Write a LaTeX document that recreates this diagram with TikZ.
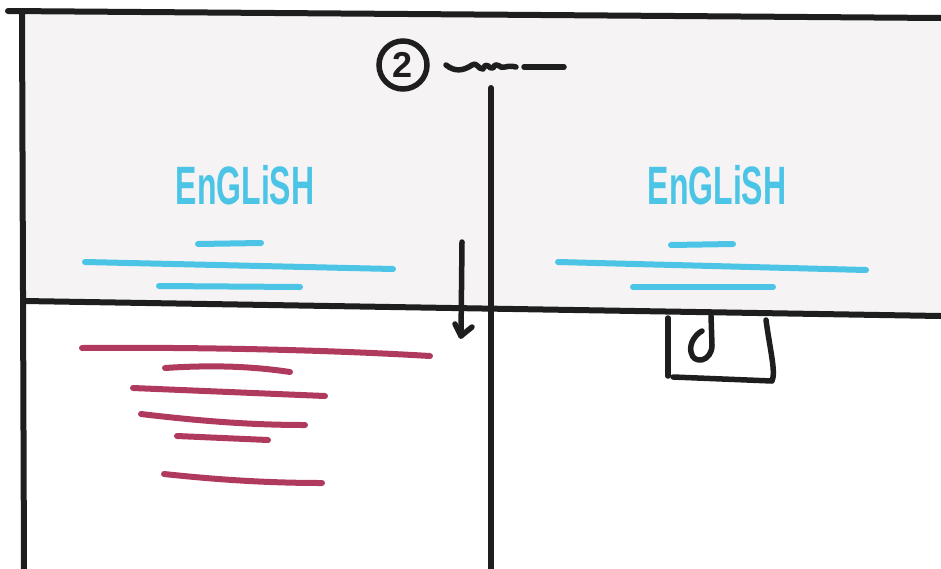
\documentclass[tikz,border=0pt]{standalone}
\usepackage{fontspec}
\setmainfont{Liberation Sans}
\definecolor{panel}{HTML}{F5F3F4}
\definecolor{skyblue}{HTML}{4CC4E6}
\definecolor{berry}{HTML}{B03A5E}
\definecolor{ink}{HTML}{1E1E1E}
\tikzset{
  inkline/.style={draw=ink, line width=6pt, line cap=round, line join=round},
  blueline/.style={draw=skyblue, line width=6pt, line cap=round},
  redline/.style={draw=berry, line width=6pt, line cap=round},
  handtext/.style={text=skyblue, font=\bfseries\fontsize{40}{40}\selectfont, xscale=0.8, yscale=1.35, inner sep=0pt}
}
\begin{document}
\begin{tikzpicture}[x=1pt,y=-1pt]
\useasboundingbox (0,0) rectangle (941,568);
% grey header band
\fill[panel] (22,12) -- (941,19) -- (941,316) -- (24,301) -- cycle;
% frame lines
\draw[inkline] (8,11) -- (941,18);
\draw[inkline] (22,12) -- (24,570);
\draw[inkline] (24,301) -- (941,316);
\draw[inkline] (491,88) -- (491,570);
% circled 2 and squiggle
\node[circle, draw=ink, line width=5.5pt, minimum size=48pt, inner sep=0pt, font=\bfseries\fontsize{36}{36}\selectfont, text=ink] (num) at (403,65) {2};
\draw[inkline, line width=5.5pt] (446,65) .. controls (455,72) and (463,71) .. (472,65)
  .. controls (476,61) and (479,70) .. (483,69) .. controls (487,60) and (489,70) .. (493,68)
  .. controls (497,60) and (500,70) .. (505,67) .. controls (509,66) and (512,66) .. (516,67);
\draw[inkline, line width=5.5pt] (524,67) -- (564,67);
% down arrow
\coordinate (arrS) at (462,242);
\coordinate (arrE) at (461,336);
\draw[inkline, line width=5.5pt] (arrS) -- (arrE);
\draw[inkline, line width=5.5pt] (455,324) -- (arrE) -- (472,327);
% English labels
\node[handtext] (engL) at (245,185) {EnGLiSH};
\node[handtext] (engR) at (717,185) {EnGLiSH};
% blue lines left
\draw[blueline] (198,244) -- (261,243);
\draw[blueline] (85,262) -- (393,269);
\draw[blueline] (159,286) -- (300,287);
% blue lines right
\draw[blueline] (671,245) -- (733,244);
\draw[blueline] (558,262) -- (866,270);
\draw[blueline] (633,287) -- (773,287);
% red lines
\draw[redline] (82,348) .. controls (200,347) and (330,350) .. (430,356);
\draw[redline] (165,368) .. controls (210,365) and (250,366) .. (290,372);
\draw[redline] (133,388) -- (325,396);
\draw[redline] (141,414) .. controls (200,421) and (250,425) .. (305,425);
\draw[redline] (177,436) -- (268,440);
\draw[redline] (164,474) .. controls (220,480) and (270,483) .. (322,483);
% bracket on the right
\draw[inkline, line width=5.5pt] (668,318) -- (668,376);
\draw[inkline, line width=5.5pt] (673,377) -- (772,381) .. controls (776,372) and (770,350) .. (766,320);
\draw[inkline, line width=5.5pt] (711,316) -- (712,345) .. controls (712,362) and (693,365) .. (691,352)
  .. controls (689,343) and (696,334) .. (702,331);
\end{tikzpicture}
\end{document}
